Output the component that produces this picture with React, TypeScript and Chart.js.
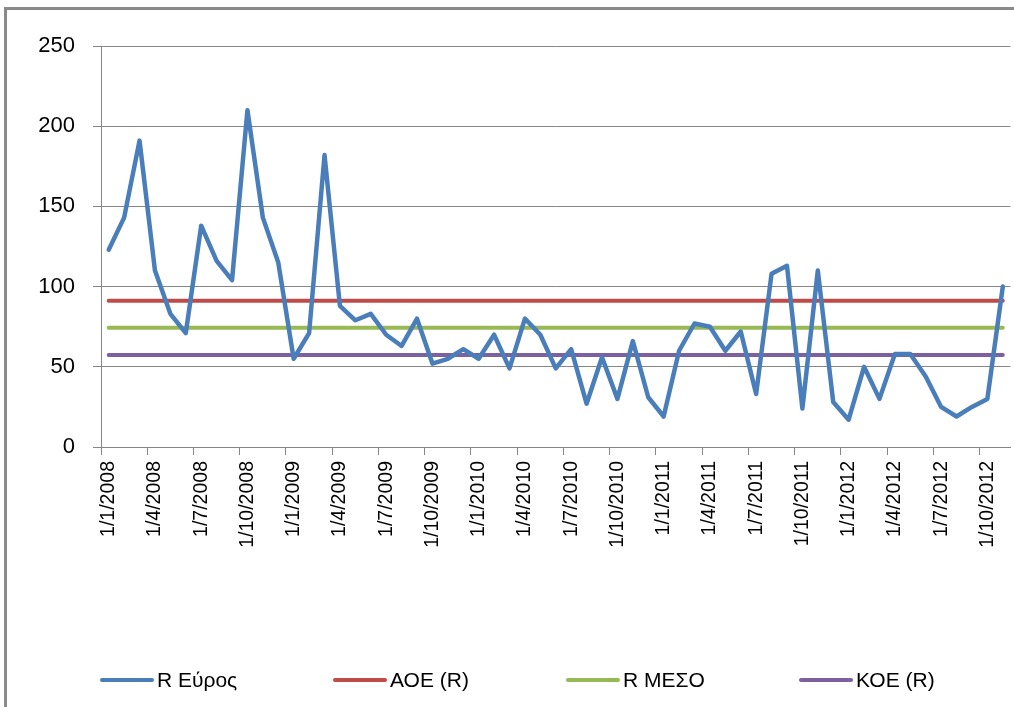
import React, { useEffect, useRef } from "react";
import { Chart, registerables } from "chart.js";

Chart.register(...registerables);

// Monthly categories (d/m/yyyy)
const categories = [
  "1/1/2008", "1/2/2008", "1/3/2008", "1/4/2008", "1/5/2008", "1/6/2008",
  "1/7/2008", "1/8/2008", "1/9/2008", "1/10/2008", "1/11/2008", "1/12/2008",
  "1/1/2009", "1/2/2009", "1/3/2009", "1/4/2009", "1/5/2009", "1/6/2009",
  "1/7/2009", "1/8/2009", "1/9/2009", "1/10/2009", "1/11/2009", "1/12/2009",
  "1/1/2010", "1/2/2010", "1/3/2010", "1/4/2010", "1/5/2010", "1/6/2010",
  "1/7/2010", "1/8/2010", "1/9/2010", "1/10/2010", "1/11/2010", "1/12/2010",
  "1/1/2011", "1/2/2011", "1/3/2011", "1/4/2011", "1/5/2011", "1/6/2011",
  "1/7/2011", "1/8/2011", "1/9/2011", "1/10/2011", "1/11/2011", "1/12/2011",
  "1/1/2012", "1/2/2012", "1/3/2012", "1/4/2012", "1/5/2012", "1/6/2012",
  "1/7/2012", "1/8/2012", "1/9/2012", "1/10/2012", "1/11/2012",
];

// R Εύρος (range)
const rRange = [
  123, 143, 191, 110, 83, 71, 138, 116, 104, 210, 143, 115,
  55, 71, 182, 88, 79, 83, 70, 63, 80, 52, 55, 61,
  55, 70, 49, 80, 70, 49, 61, 27, 56, 30, 66, 31,
  19, 60, 77, 75, 60, 72, 33, 108, 113, 24, 110, 28,
  17, 50, 30, 58, 58, 44, 25, 19, 25, 30, 100,
];

// ΑΟΕ (R) – upper control limit
const aoe = [
  91.2, 91.2, 91.2, 91.2, 91.2, 91.2, 91.2, 91.2, 91.2, 91.2, 91.2, 91.2,
  91.2, 91.2, 91.2, 91.2, 91.2, 91.2, 91.2, 91.2, 91.2, 91.2, 91.2, 91.2,
  91.2, 91.2, 91.2, 91.2, 91.2, 91.2, 91.2, 91.2, 91.2, 91.2, 91.2, 91.2,
  91.2, 91.2, 91.2, 91.2, 91.2, 91.2, 91.2, 91.2, 91.2, 91.2, 91.2, 91.2,
  91.2, 91.2, 91.2, 91.2, 91.2, 91.2, 91.2, 91.2, 91.2, 91.2, 91.2,
];

// R ΜΕΣΟ – mean
const rMean = [
  74.4, 74.4, 74.4, 74.4, 74.4, 74.4, 74.4, 74.4, 74.4, 74.4, 74.4, 74.4,
  74.4, 74.4, 74.4, 74.4, 74.4, 74.4, 74.4, 74.4, 74.4, 74.4, 74.4, 74.4,
  74.4, 74.4, 74.4, 74.4, 74.4, 74.4, 74.4, 74.4, 74.4, 74.4, 74.4, 74.4,
  74.4, 74.4, 74.4, 74.4, 74.4, 74.4, 74.4, 74.4, 74.4, 74.4, 74.4, 74.4,
  74.4, 74.4, 74.4, 74.4, 74.4, 74.4, 74.4, 74.4, 74.4, 74.4, 74.4,
];

// ΚΟΕ (R) – lower control limit
const koe = [
  57.4, 57.4, 57.4, 57.4, 57.4, 57.4, 57.4, 57.4, 57.4, 57.4, 57.4, 57.4,
  57.4, 57.4, 57.4, 57.4, 57.4, 57.4, 57.4, 57.4, 57.4, 57.4, 57.4, 57.4,
  57.4, 57.4, 57.4, 57.4, 57.4, 57.4, 57.4, 57.4, 57.4, 57.4, 57.4, 57.4,
  57.4, 57.4, 57.4, 57.4, 57.4, 57.4, 57.4, 57.4, 57.4, 57.4, 57.4, 57.4,
  57.4, 57.4, 57.4, 57.4, 57.4, 57.4, 57.4, 57.4, 57.4, 57.4, 57.4,
];

const seriesNames = ["R Εύρος", "ΑΟΕ (R)", "R ΜΕΣΟ", "ΚΟΕ (R)"];
const seriesColors = ["#4a7ebb", "#be4b48", "#98b954", "#7d60a0"];

const yMin = 0;
const yMax = 250;
const yStep = 50;
const labelEvery = 3;

const GRID = "#868686";
const FONT = '"Liberation Sans", Arial, sans-serif';

const legendPlugin = {
  id: "bottomLegend",
  afterDraw(chart: any) {
    const { ctx, chartArea } = chart;
    ctx.save();
    ctx.font = `21px ${FONT}`;
    ctx.textBaseline = "middle";
    ctx.textAlign = "left";
    const y = 680;
    const startX = chartArea.left - 1;
    const pitch = 233;
    chart.data.datasets.forEach((ds: any, i: number) => {
      const x = startX + i * pitch;
      ctx.strokeStyle = ds.borderColor;
      ctx.lineWidth = 4;
      ctx.lineCap = "round";
      ctx.beginPath();
      ctx.moveTo(x + 2, y);
      ctx.lineTo(x + 52, y);
      ctx.stroke();
      ctx.fillStyle = "#000";
      ctx.fillText(ds.label, x + 57, y + 1);
    });
    ctx.restore();
  },
};

export default function App() {
  const canvasRef = useRef<HTMLCanvasElement | null>(null);

  useEffect(() => {
    if (!canvasRef.current) return;
    const mk = (i: number, data: number[], width: number) => ({
      label: seriesNames[i],
      data,
      borderColor: seriesColors[i],
      backgroundColor: seriesColors[i],
      borderWidth: width,
      pointRadius: 0,
      pointHoverRadius: 0,
      tension: 0,
      fill: false,
      borderCapStyle: "round" as const,
      borderJoinStyle: "round" as const,
    });
    const chart = new Chart(canvasRef.current, {
      type: "line",
      data: {
        labels: categories,
        datasets: [
          mk(0, rRange, 4.5),
          mk(1, aoe, 4),
          mk(2, rMean, 4),
          mk(3, koe, 4),
        ],
      },
      options: {
        responsive: false,
        animation: false,
        layout: { padding: { top: 46, right: 3.5, bottom: 60, left: 0 } },
        plugins: {
          legend: { display: false },
          tooltip: { enabled: false },
          title: { display: false },
        },
        scales: {
          x: {
            type: "category",
            offset: true,
            grid: {
              display: true,
              offset: true,
              drawOnChartArea: false,
              drawTicks: true,
              tickLength: 8,
              color: (ctx: any) =>
                ctx.type === "tick" && ctx.index % labelEvery === 0 ? GRID : "rgba(0,0,0,0)",
            },
            border: { display: true, color: GRID, width: 1 },
            ticks: {
              autoSkip: false,
              maxRotation: 90,
              minRotation: 90,
              padding: 6,
              color: "#000",
              font: { family: FONT, size: 19.5 },
              callback: (_v: any, index: number) =>
                index % labelEvery === 0 ? categories[index] : "",
            },
            afterFit: (scale: any) => {
              scale.height = 200;
              scale.paddingLeft = 0;
              scale.paddingRight = 0;
            },
          },
          y: {
            min: yMin,
            max: yMax,
            grid: { color: GRID, tickLength: 8, drawTicks: true },
            border: { display: true, color: GRID, width: 1 },
            ticks: {
              stepSize: yStep,
              padding: 18,
              color: "#000",
              font: { family: FONT, size: 22 },
            },
            afterFit: (scale: any) => {
              scale.width = 101;
            },
          },
        },
      },
      plugins: [legendPlugin],
    });
    return () => chart.destroy();
  }, []);

  return (
    <div
      style={{
        position: "fixed",
        left: 0,
        top: 0,
        width: 1014,
        height: 707,
        overflow: "hidden",
        background: "#fff",
      }}
    >
      <div
        style={{
          position: "absolute",
          left: 4,
          top: 7,
          width: 1100,
          height: 800,
          border: "3px solid #8a8a8a",
          boxSizing: "border-box",
        }}
      />
      <canvas
        ref={canvasRef}
        width={1014}
        height={707}
        style={{ position: "absolute", left: 0, top: 0, width: 1014, height: 707 }}
      />
    </div>
  );
}
